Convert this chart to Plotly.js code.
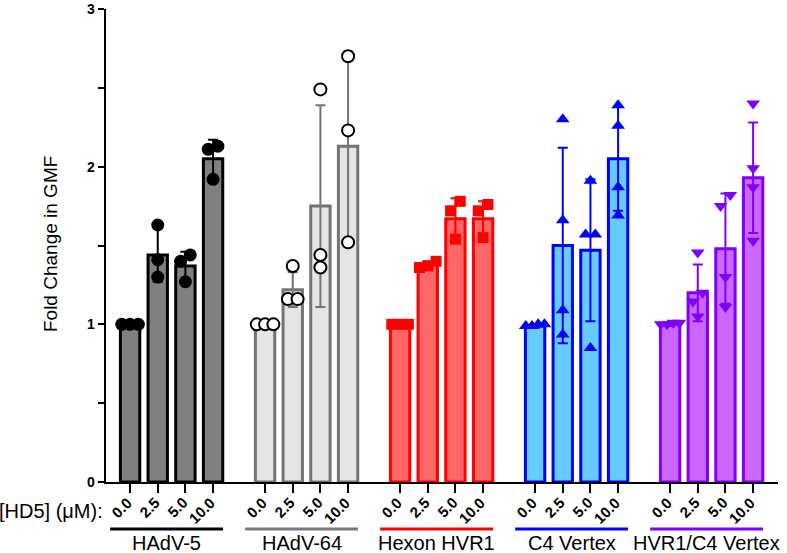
<!DOCTYPE html>
<html>
<head>
<meta charset="utf-8">
<script src="https://cdn.plot.ly/plotly-3.0.1.min.js"></script>
<style>html,body{margin:0;padding:0;background:#fff;}#chart{width:787px;height:553px;}</style>
</head>
<body>
<div id="chart"></div>
<script>
// ---- data ----
const groupNames = ['HAdV-5', 'HAdV-64', 'Hexon HVR1', 'C4 Vertex', 'HVR1/C4 Vertex'];
const doseLabels = ['0.0', '2.5', '5.0', '10.0'];

const meanHAdV5 = [1.00, 1.44, 1.37, 2.05];
const sdHAdV5   = [0.00, 0.17, 0.09, 0.12];
const ptsHAdV5  = [[1.00, 1.00, 1.00], [1.63, 1.41, 1.30], [1.40, 1.44, 1.27], [2.11, 2.13, 1.92]];

const meanHAdV64 = [1.00, 1.22, 1.75, 2.13];
const sdHAdV64   = [0.00, 0.11, 0.64, 0.60];
const ptsHAdV64  = [[1.00, 1.00, 1.00], [1.37, 1.16, 1.16], [2.49, 1.44, 1.36], [2.70, 2.23, 1.52]];

const meanHVR1 = [1.00, 1.38, 1.67, 1.67];
const sdHVR1   = [0.00, 0.02, 0.13, 0.11];
const ptsHVR1  = [[1.00, 1.00, 1.00], [1.40, 1.37, 1.36], [1.78, 1.72, 1.54], [1.76, 1.72, 1.55]];

const meanC4 = [0.99, 1.50, 1.47, 2.05];
const sdC4   = [0.01, 0.62, 0.45, 0.33];
const ptsC4  = [[1.00, 1.00, 0.99, 0.99], [2.30, 1.66, 1.09, 0.935], [1.91, 1.57, 1.57, 0.85], [2.39, 2.26, 1.87, 1.69]];

const meanHVR1C4 = [1.00, 1.20, 1.48, 1.93];
const sdHVR1C4   = [0.01, 0.18, 0.35, 0.35];
const ptsHVR1C4  = [[1.01, 1.01, 1.00, 1.00], [1.455, 1.20, 1.145, 1.05], [1.82, 1.75, 1.30, 1.11], [2.40, 1.99, 1.87, 1.53]];

// ---- styles ----
const styles = [
  {fill: '#808080', line: '#000000', err: '#000000', sym: 'circle', mcol: '#000000', mline: '#000000', mlw: 0, size: 13, group: '#000000'},
  {fill: '#e5e5e5', line: '#747474', err: '#747474', sym: 'circle', mcol: '#ffffff', mline: '#000000', mlw: 2, size: 12, group: '#7a7a7a'},
  {fill: '#ff6666', line: '#ff0000', err: '#ff0000', sym: 'square', mcol: '#ff0000', mline: '#ff0000', mlw: 0, size: 11, group: '#ff0000'},
  {fill: '#66ccff', line: '#0000ff', err: '#0000ff', sym: 'triangle-up', mcol: '#0000ff', mline: '#0000ff', mlw: 0, size: 12, group: '#0000ff'},
  {fill: '#cc66ff', line: '#8000ff', err: '#8000ff', sym: 'triangle-down', mcol: '#8000ff', mline: '#8000ff', mlw: 0, size: 12, group: '#8000ff'}
];

const means = [meanHAdV5, meanHAdV64, meanHVR1, meanC4, meanHVR1C4];
const sds = [sdHAdV5, sdHAdV64, sdHVR1, sdC4, sdHVR1C4];
const pts = [ptsHAdV5, ptsHAdV64, ptsHVR1, ptsC4, ptsHVR1C4];

const GAP = 4.88; // group spacing in bar units
const traces = [];
const tickvals = [], ticktext = [];
const shapes = [], annotations = [];

function jitter(vals) {
  // spread points whose values are nearly equal (overlapping markers)
  const idx = vals.map((v, i) => i).sort((a, b) => vals[a] - vals[b]);
  const off = new Array(vals.length).fill(0);
  let cluster = [idx[0]];
  const flush = () => {
    const k = cluster.length;
    if (k > 1) {
      const sp = Math.min(0.35, 0.9 / k);
      cluster.forEach((ii, j) => { off[ii] = (j - (k - 1) / 2) * sp; });
    }
  };
  for (let j = 1; j < idx.length; j++) {
    const prev = cluster[cluster.length - 1];
    if (vals[idx[j]] - vals[prev] < 0.075) cluster.push(idx[j]);
    else { flush(); cluster = [idx[j]]; }
  }
  flush();
  return off;
}

// plot area: top 9px, bottom at 482px => height 473
const PH = 473;
const py = (pix) => (482 - pix) / PH;

// text measurement for rotated dose labels
const TICK_FONT = 15;
const ctx = document.createElement('canvas').getContext('2d');
ctx.font = 'bold ' + TICK_FONT + 'px Arial, "Liberation Sans"';
const C45 = Math.SQRT1_2;

groupNames.forEach((name, g) => {
  const st = styles[g];
  const xs = doseLabels.map((d, i) => g * GAP + i);
  xs.forEach((x, i) => {
    tickvals.push(x); ticktext.push('');
    const w = ctx.measureText(doseLabels[i]).width;
    annotations.push({xref: 'x', yref: 'paper', x: x, y: py(500), text: doseLabels[i],
      showarrow: false, xanchor: 'center', yanchor: 'middle', textangle: -45,
      xshift: -1 - (w / 2) * C45, yshift: -(w / 2) * C45,
      font: {family: 'Arial, Liberation Sans', size: TICK_FONT, color: '#000', weight: 'bold'}});
  });
  traces.push({
    type: 'bar', x: xs, y: means[g], width: 0.7,
    marker: {color: st.fill, line: {color: st.line, width: 3}},
    error_y: {type: 'data', array: sds[g], visible: true, color: st.err, thickness: 2, width: 5},
    showlegend: false, hoverinfo: 'skip'
  });
  const px = [], pyv = [];
  pts[g].forEach((vals, i) => {
    const off = jitter(vals);
    vals.forEach((v, k) => { px.push(xs[i] + off[k]); pyv.push(v); });
  });
  traces.push({
    type: 'scatter', mode: 'markers', x: px, y: pyv, cliponaxis: false,
    marker: {symbol: st.sym, size: st.size, color: st.mcol, line: {color: st.mline, width: st.mlw}},
    showlegend: false, hoverinfo: 'skip'
  });
  shapes.push({type: 'line', xref: 'x', yref: 'paper', x0: g * GAP - 0.72, x1: g * GAP + 3.36,
               y0: py(529), y1: py(529), line: {color: st.group, width: 3}});
  annotations.push({xref: 'x', yref: 'paper', x: g * GAP + 1.32, y: py(543), text: name,
                    showarrow: false, xanchor: 'center', yanchor: 'middle',
                    font: {family: 'Arial, Liberation Sans', size: 20, color: '#000'}});
});

annotations.push({xref: 'paper', yref: 'paper', x: -0.0015, y: py(511), text: '[HD5] (μM):',
                  showarrow: false, xanchor: 'right', yanchor: 'middle',
                  font: {family: 'Arial, Liberation Sans', size: 20, color: '#000'}});
annotations.push({xref: 'paper', yref: 'paper', x: -0.0818, y: py(244), text: 'Fold Change in GMF',
                  showarrow: false, xanchor: 'center', yanchor: 'middle', textangle: -90,
                  font: {family: 'Arial, Liberation Sans', size: 19, color: '#000'}});

const yTickVals = [0, 0.5, 1, 1.5, 2, 2.5, 3];
const yTickText = ['0', '', '1', '', '2', '', '3'];

const layout = {
  width: 787, height: 553,
  margin: {l: 106, r: 9, t: 9, b: 71},
  paper_bgcolor: '#fff', plot_bgcolor: '#fff',
  showlegend: false,
  bargap: 0,
  xaxis: {
    range: [-0.87, 23.42], showgrid: false, zeroline: false,
    showline: true, linecolor: '#000', linewidth: 2,
    ticks: 'outside', ticklen: 9, tickwidth: 2, tickcolor: '#000',
    tickvals: tickvals, ticktext: ticktext, showticklabels: false
  },
  yaxis: {
    range: [0, 3], showgrid: false, zeroline: false,
    showline: true, linecolor: '#000', linewidth: 2.5,
    ticks: 'outside', ticklen: 6, tickwidth: 2, tickcolor: '#000',
    tickvals: yTickVals, ticktext: yTickText, ticklabeloverflow: 'allow',
    tickfont: {family: 'Arial, Liberation Sans', size: 14, color: '#000', weight: 'bold'}
  },
  shapes: shapes,
  annotations: annotations
};

Plotly.newPlot('chart', traces, layout, {staticPlot: true, displayModeBar: false});
</script>
</body>
</html>
